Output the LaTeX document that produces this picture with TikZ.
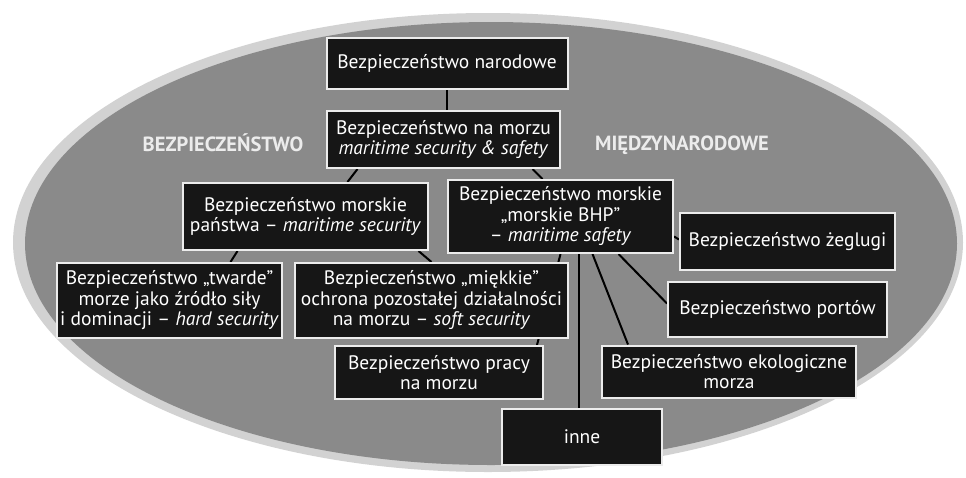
\documentclass[tikz,border=0pt]{standalone}
\usepackage{fontspec}
\setmainfont{PT Sans}
\usetikzlibrary{backgrounds}

\definecolor{rim}{RGB}{210,210,210}
\definecolor{sea}{RGB}{138,138,138}
\definecolor{boxfill}{RGB}{22,22,22}
\definecolor{boxline}{RGB}{236,236,236}

\begin{document}
\begin{tikzpicture}[x=1pt,y=-1pt,
  box/.style n args={2}{draw=boxline,line width=2pt,fill=boxfill,text=white,align=center,minimum width=#1pt,minimum height=#2pt,inner sep=0pt,font=\fontsize{19.5}{20.5}\selectfont},
  lbl/.style={text=boxline,font=\fontsize{20.5}{21}\selectfont\bfseries},
  conn/.style={line width=2pt,draw=black}]
\useasboundingbox (0,0) rectangle (966,477);

% boxes
\node[box={241}{51}] (narodowe) at (447,63) {Bezpieczeństwo narodowe};
\node[box={233}{57}] (morze) at (443.5,139.5) {Bezpieczeństwo na morzu\\\textit{maritime security \& safety}};
\node[box={245}{67}] (panstwa) at (305.5,216.5) {Bezpieczeństwo morskie\\państwa -- \textit{maritime security}};
\node[box={225}{73}] (bhp) at (560.5,216.5) {Bezpieczeństwo morskie\\„morskie BHP”\\-- \textit{maritime safety}};
\node[box={225}{75}] (twarde) at (169.5,300.5) {Bezpieczeństwo „twarde”\\morze jako źródło siły\\i dominacji -- \textit{hard security}};
\node[box={273}{75}] (miekkie) at (431.5,300.5) {Bezpieczeństwo „miękkie”\\ochrona pozostałej działalności\\na morzu -- \textit{soft security}};
\node[box={215}{57}] (zeglugi) at (787.5,241.5) {Bezpieczeństwo żeglugi};
\node[box={219}{55}] (portow) at (777.5,309.5) {Bezpieczeństwo portów};
\node[box={208}{53}] (pracy) at (439,372.5) {Bezpieczeństwo pracy\\na morzu};
\node[box={254}{52}] (eko) at (729,371.5) {Bezpieczeństwo ekologiczne\\morza};
\node[box={160}{56}] (inne) at (582,437) {inne};

\node[lbl] (lewy) at (223,143) {BEZPIECZEŃSTWO};
\node[lbl] (prawy) at (682,145) {MIĘDZYNARODOWE};

\begin{pgfonlayer}{background}
\fill[rim] (488,242.5) ellipse [x radius=475pt, y radius=229.5pt];
\fill[sea] (491,243.5) ellipse [x radius=466pt, y radius=221.5pt];
% links
\draw[conn] (narodowe.south) -- (narodowe.south |- morze.north);
\draw[conn] ([xshift=-86pt]morze.south) -- ([xshift=42pt]panstwa.north);
\draw[conn] ([xshift=89pt]morze.south) -- ([xshift=-18pt]bhp.north);
\draw[conn] ([xshift=-68pt]panstwa.south) -- ([xshift=61pt]twarde.north);
\draw[conn] ([xshift=113pt]panstwa.south) -- (miekkie.north);
\draw[conn] ([yshift=-20pt]bhp.east) -- ([yshift=2pt]zeglugi.west);
\draw[conn] ([xshift=58pt]bhp.south) -- ([yshift=6pt]portow.west);
\draw[conn] ([xshift=32pt]bhp.south) -- ([xshift=-101pt]eko.north);
\draw[conn] ([xshift=18.5pt]bhp.south) -- ([xshift=-3pt]inne.north);
\draw[conn] (bhp.south) -- ([xshift=98pt]pracy.north);
\end{pgfonlayer}
\end{tikzpicture}
\end{document}
